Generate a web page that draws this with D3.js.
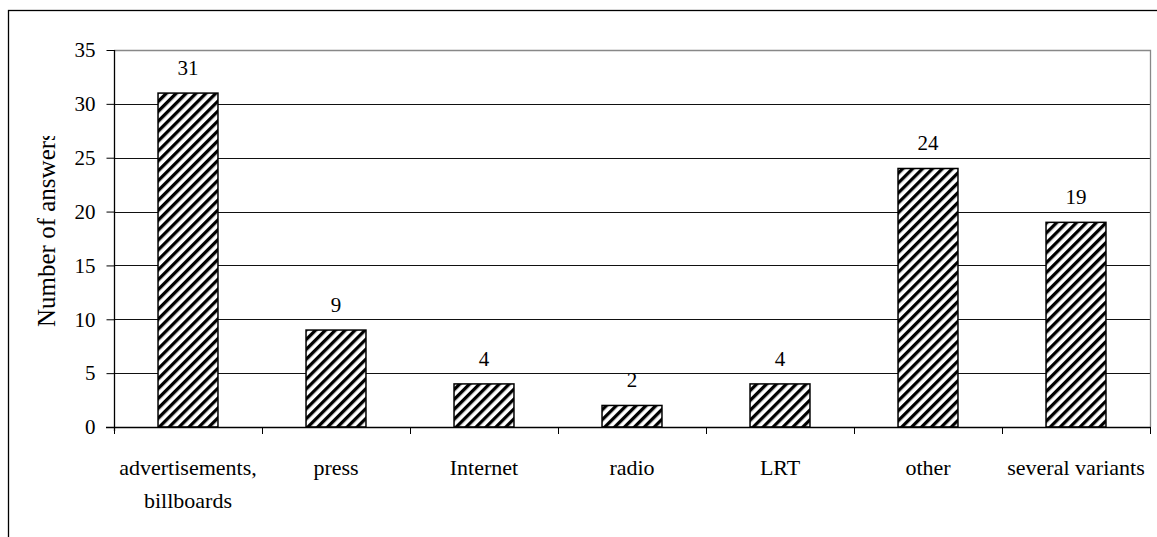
<!DOCTYPE html>
<html>
<head>
<meta charset="utf-8">
<script src="https://cdn.jsdelivr.net/npm/d3@7/dist/d3.min.js"></script>
<style>
  html, body { margin: 0; padding: 0; background: #fff; }
  svg { display: block; }
</style>
</head>
<body>
<svg id="chart" width="1157" height="537"></svg>
<script>
const categories = ["advertisements, billboards", "press", "Internet", "radio", "LRT", "other", "several variants"];
const values = [31, 9, 4, 2, 4, 24, 19];
const yTicks = [0, 5, 10, 15, 20, 25, 30, 35];
const yTitle = "Number of answers";

const FONT = "'Liberation Serif', Tinos, 'Times New Roman', Times, 'DejaVu Serif', serif";
const W = 1157, H = 537;
const plot = { left: 114, right: 1150, top: 50, bottom: 427 };

const svg = d3.select("#chart").attr("font-family", FONT);

// hatch pattern
const defs = svg.append("defs");
const pat = defs.append("pattern")
  .attr("id", "hatch")
  .attr("patternUnits", "userSpaceOnUse")
  .attr("width", 7).attr("height", 7)
  .attr("patternTransform", "rotate(45)");
pat.append("rect").attr("width", 7).attr("height", 7).attr("fill", "#fff");
pat.append("rect").attr("x", 0).attr("y", 0).attr("width", 3.3).attr("height", 7).attr("fill", "#000");

defs.append("clipPath").attr("id", "titleClip")
  .append("rect").attr("x", 0).attr("y", 136).attr("width", 110).attr("height", 400);

// outer frame
svg.append("rect")
  .attr("x", 8.5).attr("y", 10.5)
  .attr("width", W + 20).attr("height", H + 20)
  .attr("fill", "none").attr("stroke", "#000").attr("stroke-width", 1.3);

const x = d3.scaleBand()
  .domain(categories)
  .range([plot.left, plot.right])
  .paddingInner(0.595)
  .paddingOuter(0.2975);

const y = d3.scaleLinear().domain([0, 35]).range([plot.bottom, plot.top]);

// gridlines
svg.append("g")
  .selectAll("line")
  .data(yTicks.filter(t => t > 0 && t < 35))
  .join("line")
  .attr("x1", plot.left).attr("x2", plot.right)
  .attr("y1", d => Math.round(y(d)) + 0.5).attr("y2", d => Math.round(y(d)) + 0.5)
  .attr("stroke", "#111").attr("stroke-width", 1);

// plot border top & right (gray)
svg.append("path")
  .attr("d", `M${plot.left},${Math.round(y(35)) + 0.5}H${plot.right + 0.5}V${plot.bottom}`)
  .attr("fill", "none").attr("stroke", "#888").attr("stroke-width", 1.3);

// bars
svg.append("g")
  .selectAll("rect")
  .data(values)
  .join("rect")
  .attr("x", (d, i) => x(categories[i]))
  .attr("width", x.bandwidth())
  .attr("y", d => y(d))
  .attr("height", d => y(0) - y(d))
  .attr("fill", "url(#hatch)")
  .attr("stroke", "#000").attr("stroke-width", 1.5);

// y axis
const yAxis = d3.axisLeft(y).tickValues(yTicks).tickSize(8).tickPadding(11).tickFormat(d3.format("d"));
const gy = svg.append("g").attr("transform", `translate(${plot.left + 0.5},0)`).call(yAxis);
gy.attr("font-family", FONT).attr("font-size", 21);
gy.select(".domain").attr("d", `M0,${plot.top}V${plot.bottom + 4}`).attr("stroke", "#000").attr("stroke-width", 1.3);
gy.selectAll(".tick line").attr("stroke", "#000").attr("stroke-width", 1);
gy.selectAll(".tick text").attr("fill", "#000");

// x axis line & category ticks
const xAxisG = svg.append("g");
xAxisG.append("line")
  .attr("x1", plot.left - 8).attr("x2", plot.right + 0.5)
  .attr("y1", plot.bottom + 0.5).attr("y2", plot.bottom + 0.5)
  .attr("stroke", "#000").attr("stroke-width", 1.3);
const boundaries = categories.map(c => x(c) - x.step() * x.paddingInner() / 2);
boundaries.push(plot.right);
xAxisG.selectAll("line.tk")
  .data(boundaries)
  .join("line").attr("class", "tk")
  .attr("x1", d => Math.round(d) + 0.5).attr("x2", d => Math.round(d) + 0.5)
  .attr("y1", plot.bottom).attr("y2", plot.bottom + 7)
  .attr("stroke", "#000").attr("stroke-width", 1);

// category labels with wrapping
const measurer = svg.append("text").attr("font-size", 22).attr("visibility", "hidden");
function textWidth(s) { measurer.text(s); return measurer.node().getComputedTextLength(); }
function wrap(label, maxW) {
  const words = label.split(" ");
  const lines = [];
  let cur = "";
  for (const w of words) {
    const t = cur ? cur + " " + w : w;
    if (cur && textWidth(t) > maxW) { lines.push(cur); cur = w; }
    else cur = t;
  }
  lines.push(cur);
  return lines;
}
const catG = svg.append("g");
categories.forEach((c, i) => {
  const lines = wrap(c, x.step() - 2);
  const t = catG.append("text")
    .attr("text-anchor", "middle")
    .attr("font-size", 22);
  lines.forEach((ln, j) => {
    t.append("tspan")
      .attr("x", x(c) + x.bandwidth() / 2)
      .attr("y", 475 + j * 33)
      .text(ln);
  });
});
measurer.remove();

// value labels
svg.append("g")
  .selectAll("text")
  .data(values)
  .join("text")
  .attr("x", (d, i) => x(categories[i]) + x.bandwidth() / 2)
  .attr("y", d => y(d) - 18)
  .attr("text-anchor", "middle")
  .attr("font-size", 21)
  .text(d => d);

// y title
svg.append("g").attr("clip-path", "url(#titleClip)")
  .append("text")
  .attr("transform", `translate(55,327) rotate(-90)`)
  .attr("text-anchor", "start")
  .attr("font-size", 25)
  .text(yTitle);
</script>
</body>
</html>
